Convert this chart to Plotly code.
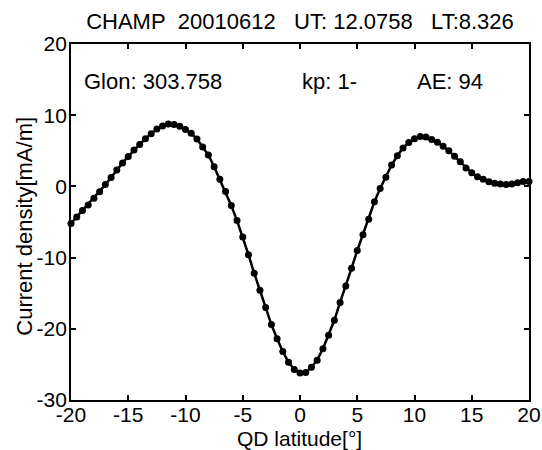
import plotly.graph_objects as go

# QD latitude samples (deg) and field-aligned current density (mA/m)
qd_lat = [-20 + 0.5 * i for i in range(81)]
current_density = [
    -5.2, -4.3, -3.4, -2.6, -1.65, -0.75, 0.25, 1.25, 2.3, 3.3,
    4.2, 5.1, 5.9, 6.7, 7.4, 8.05, 8.5, 8.75, 8.7, 8.45,
    8.0, 7.45, 6.65, 5.55, 4.4, 2.75, 1.0, -0.7, -2.7, -4.8,
    -7.1, -9.6, -12.2, -14.6, -17.0, -19.4, -21.4, -23.2, -24.7, -25.7,
    -26.2, -26.15, -25.4, -24.4, -22.8, -20.9, -18.8, -16.3, -14.0, -11.5,
    -9.0, -6.8, -4.6, -2.15, -0.3, 1.3, 3.0, 4.3, 5.4, 6.15,
    6.7, 7.0, 6.95, 6.6, 6.2, 5.65, 5.0, 4.25, 3.45, 2.6,
    1.9, 1.35, 1.0, 0.65, 0.45, 0.32, 0.28, 0.35, 0.5, 0.68,
    0.7,
]

x_ticks = [-20, -15, -10, -5, 0, 5, 10, 15, 20]
y_ticks = [-30, -20, -10, 0, 10, 20]

title_text = "CHAMP\u00a0\u00a020010612\u00a0\u00a0\u00a0UT:\u00a012.0758\u00a0\u00a0\u00a0LT:8.326"
x_title = "QD latitude[°]"
y_title = "Current density[mA/m]"
info_labels = ["Glon: 303.758", "kp: 1-", "AE: 94"]
info_x = [-19, 0, 10]
info_y = 14.8

FONT = "Liberation Sans, Arial, Helvetica, sans-serif"
font = dict(family=FONT, size=22, color="black")
small_font = dict(family=FONT, size=21, color="black")

# plot area in pixels: x 71..529, y 43.5..400
L, R, T, B = 71, 13, 43.5, 50
PW, PH = 542 - L - R, 450 - T - B

fig = go.Figure()
fig.add_trace(go.Scatter(
    x=qd_lat, y=current_density,
    mode="lines+markers",
    line=dict(color="black", width=2.5),
    marker=dict(color="black", size=7),
    showlegend=False,
    cliponaxis=False,
))

for txt, xv in zip(info_labels, info_x):
    fig.add_annotation(
        x=xv, y=info_y, xref="x", yref="y", text=txt.replace(" ", "\u00a0"),
        showarrow=False, xanchor="left", yanchor="middle", font=font,
    )

# axis titles
fig.add_annotation(
    x=(299 - L) / PW, y=(450 - B - 438.2) / PH, xref="paper", yref="paper",
    text=x_title, showarrow=False, xanchor="center", yanchor="middle",
    font=small_font, borderpad=0,
)
fig.add_annotation(
    x=(24.5 - L) / PW, y=(450 - B - 226) / PH, xref="paper", yref="paper",
    text=y_title, textangle=-90, showarrow=False,
    xanchor="center", yanchor="middle", font=font,
)

axis_common = dict(
    showline=True, linecolor="black", linewidth=1.8, mirror="ticks",
    ticks="inside", ticklen=5, tickwidth=1.5, tickcolor="black",
    showgrid=False, zeroline=False, automargin=False,
    tickfont=small_font,
)

fig.update_layout(
    width=542, height=450,
    margin=dict(l=L, r=R, t=T, b=B),
    paper_bgcolor="white", plot_bgcolor="white",
    title=dict(
        text=title_text, x=300 / 542, xanchor="center",
        y=1 - 21 / 450, yanchor="middle", yref="container",
        font=font, automargin=False,
    ),
    xaxis=dict(
        range=[-20, 20], tickvals=x_ticks, ticktext=[str(v) for v in x_ticks],
        ticklabelstandoff=-5,
        **axis_common,
    ),
    yaxis=dict(
        range=[-30, 20], tickvals=y_ticks, ticktext=[str(v) for v in y_ticks],
        ticklabelstandoff=-2,
        **axis_common,
    ),
)

fig.write_html("out.html")
